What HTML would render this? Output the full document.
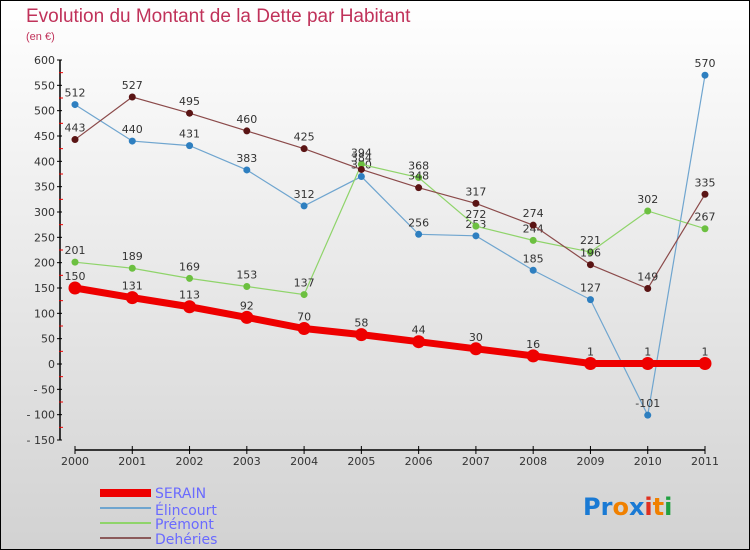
<!DOCTYPE html>
<html><head><meta charset="utf-8"><style>
body{margin:0}
svg{display:block;font-family:"DejaVu Sans","Liberation Sans",sans-serif}
</style></head><body>
<svg id="c" width="750" height="550" viewBox="0 0 750 550" xmlns="http://www.w3.org/2000/svg">
<defs><linearGradient id="bg" x1="0" y1="0" x2="0" y2="1"><stop offset="0" stop-color="#ffffff"/><stop offset="1" stop-color="#d2d2d2"/></linearGradient></defs>
<rect x="0.5" y="0.5" width="749" height="549" fill="url(#bg)" stroke="#000"/>
<text x="26" y="22" font-size="19" fill="#c0325a" font-family="Liberation Sans, sans-serif">Evolution du Montant de la Dette par Habitant</text>
<text x="26" y="40" font-size="11" fill="#c0325a" font-family="Liberation Sans, sans-serif">(en €)</text>
<g id="axes"></g><g id="series"></g>
<g>
<rect x="100" y="489" width="51" height="8" fill="#e00"/>
<text x="155" y="498" font-size="14" fill="#6a6aff">SERAIN</text>
<line x1="100" y1="508" x2="151" y2="508" stroke="#6fa5cf" stroke-width="2"/>
<text x="155" y="515" font-size="14" fill="#6a6aff">Élincourt</text>
<line x1="100" y1="523" x2="151" y2="523" stroke="#8fd46a" stroke-width="2"/>
<text x="155" y="529" font-size="14" fill="#6a6aff">Prémont</text>
<line x1="100" y1="538" x2="151" y2="538" stroke="#8b5a5a" stroke-width="2"/>
<text x="155" y="544" font-size="14" fill="#6a6aff">Dehéries</text>
</g>
<text x="583" y="515" font-size="24" font-weight="bold"><tspan fill="#1a7ad4">Pr</tspan><tspan fill="#f08000">o</tspan><tspan fill="#1a7ad4">x</tspan><tspan fill="#e03020">i</tspan><tspan fill="#f08000">t</tspan><tspan fill="#20a040">i</tspan></text>
</svg>
<script>
const years=[2000,2001,2002,2003,2004,2005,2006,2007,2008,2009,2010,2011];
const serain=[150,131,113,92,70,58,44,30,16,1,1,1];
const elincourt=[512,440,431,383,312,370,256,253,185,127,-101,570];
const premont=[201,189,169,153,137,394,368,272,244,221,302,267];
const deheries=[443,527,495,460,425,384,348,317,274,196,149,335];
const yTicks=[600,550,500,450,400,350,300,250,200,150,100,50,0,-50,-100,-150];
const NS="http://www.w3.org/2000/svg";
const X=i=>75+i*(630/11);
const Y=v=>364-v*(304/600);
function mk(tag,at,parent){const e=document.createElementNS(NS,tag);for(const k in at)e.setAttribute(k,at[k]);parent.appendChild(e);return e;}
const ax=document.getElementById('axes');
let a=mk('line',{x1:60,y1:Y(600),x2:60,y2:Y(-150),stroke:'#000','stroke-width':1.5},ax);


yTicks.forEach(v=>{
 const t=mk('line',{x1:57,x2:62,y1:Y(v),y2:Y(v),stroke:'#000'},ax);
 
 
 const r=mk('line',{x1:59,x2:63,y1:Y(v-25),y2:Y(v-25),stroke:'#e00'},ax);
 if(v===-150)r.remove();
 const l=mk('text',{x:55,y:Y(v)+4,'font-size':11,fill:'#333','text-anchor':'end'},ax);
 l.textContent=v<0?'- '+(-v):v;
 
 
});
let b=mk('line',{x1:75,y1:450,x2:705,y2:450,stroke:'#000','stroke-width':1.5},ax);


years.forEach((y,i)=>{
 const t=mk('line',{x1:X(i),x2:X(i),y1:446,y2:454,stroke:'#000'},ax);
 
 
 const l=mk('text',{x:X(i),y:465,'font-size':11,fill:'#333','text-anchor':'middle'},ax);
 l.textContent=y;
 
 
});
const sg=document.getElementById('series');
function draw(data,color,dot,w,r,name){
 const g=mk('g',{},sg);
 
 
 const p=mk('polyline',{points:data.map((v,i)=>X(i)+','+Y(v)).join(' '),fill:'none',stroke:color,'stroke-width':w},g);
 
 
 data.forEach((v,i)=>{
  const c=mk('circle',{cx:X(i),cy:Y(v),r:r,fill:dot},g);
  
  
  const t=mk('text',{x:X(i),y:Y(v)-8,'font-size':11,fill:'#333','text-anchor':'middle'},g);
  t.textContent=v;
  
  
 });
}
draw(elincourt,'#6fa5cf','#2e7fc0',1.2,3.5,'elincourt');
draw(premont,'#8fd46a','#6cc040',1.2,3.5,'premont');
draw(deheries,'#8b4a4a','#5a1414',1.2,3.5,'deheries');
draw(serain,'#ee0000','#ee0000',7,6.5,'serain');
</script>
</body></html>
